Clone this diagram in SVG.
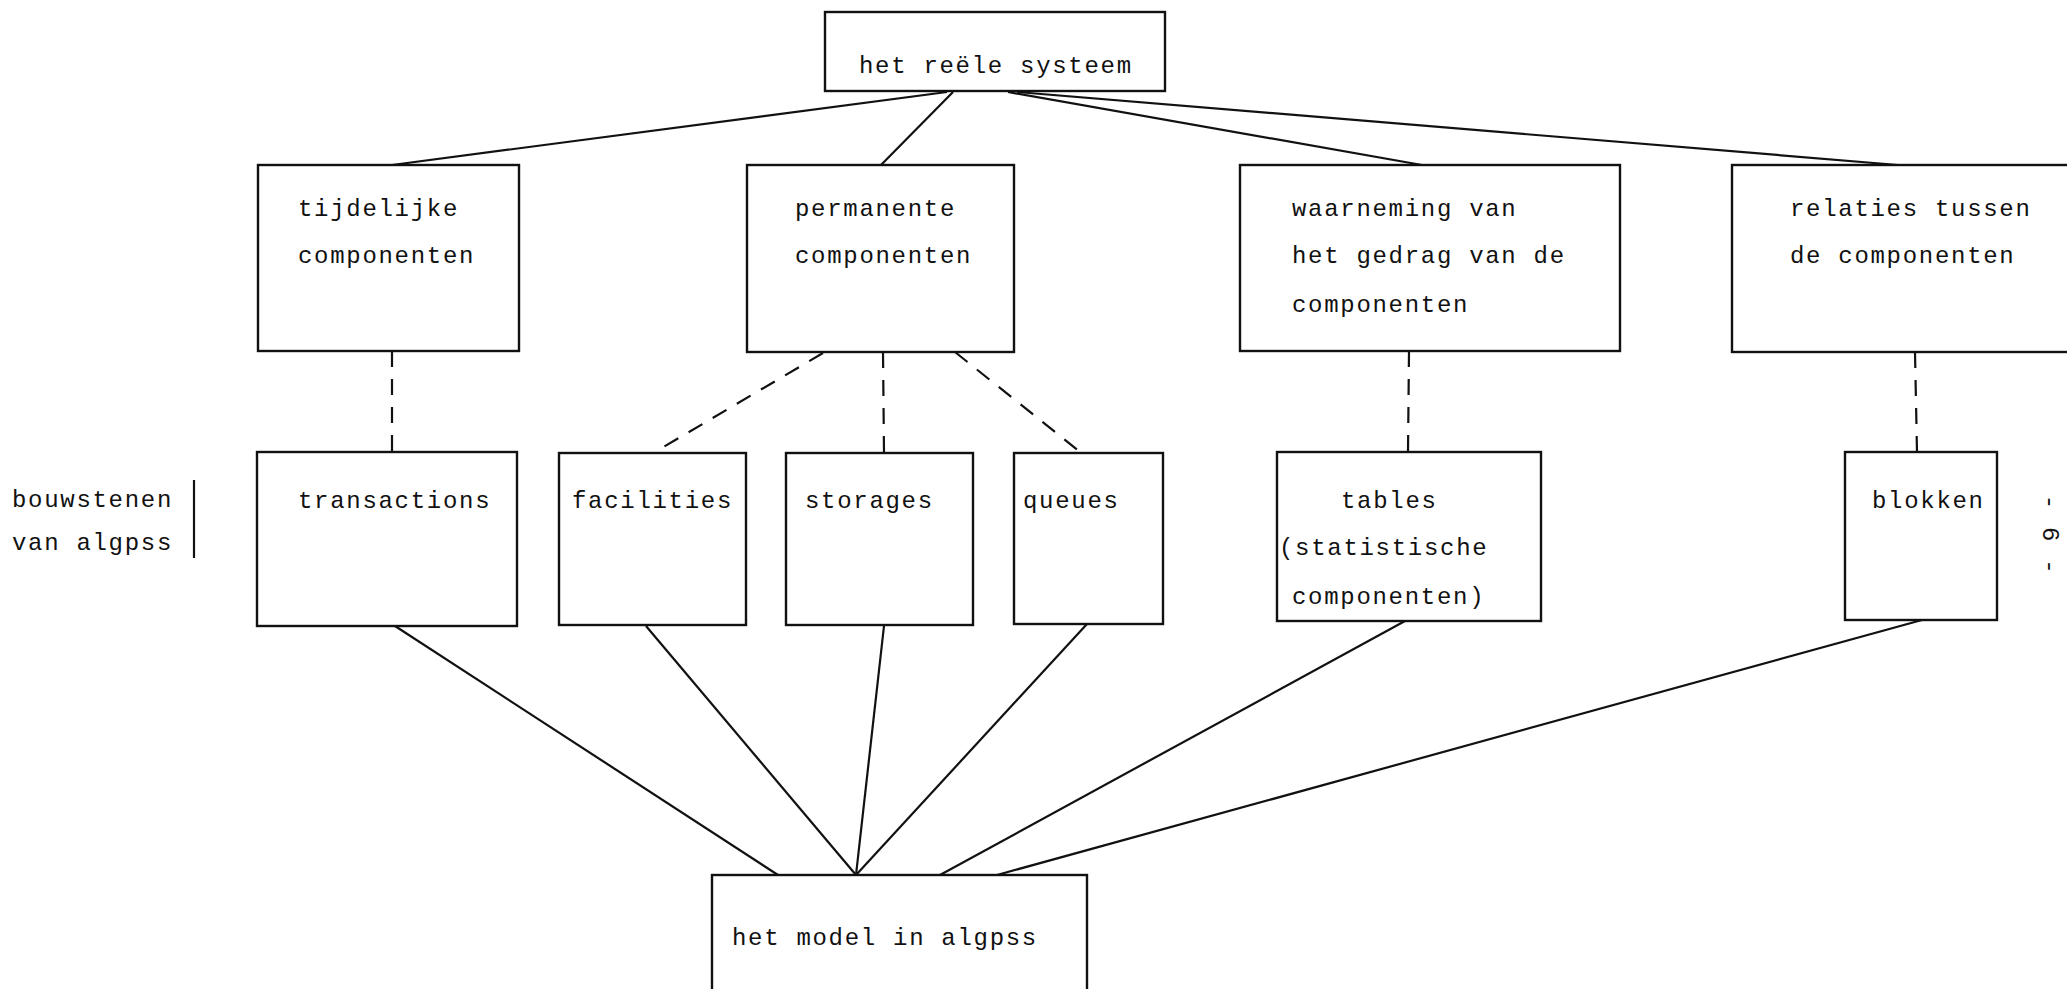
<svg xmlns="http://www.w3.org/2000/svg" width="2067" height="989" viewBox="0 0 2067 989">
<style>
  .box { fill: #fff; stroke: #111; stroke-width: 2.4; }
  .t { font-family: "Liberation Mono", "DejaVu Sans Mono", monospace; font-size: 24px; letter-spacing: 1.7px; fill: #111; }
  .solid { stroke: #111; stroke-width: 2.2; fill: none; }
  .dash { stroke: #111; stroke-width: 2.2; fill: none; stroke-dasharray: 16 12; }
</style>
<rect x="0" y="0" width="2067" height="989" fill="#fff"/>

<g id="connectors">
  <line class="solid" x1="947" y1="92" x2="392" y2="165"/>
  <line class="solid" x1="953" y1="92" x2="881" y2="165"/>
  <line class="solid" x1="1008" y1="92" x2="1422" y2="165"/>
  <line class="solid" x1="1017" y1="92" x2="1898" y2="165"/>

  <line class="dash" x1="392" y1="351" x2="392" y2="452"/>
  <line class="dash" x1="823" y1="353" x2="655" y2="452"/>
  <line class="dash" x1="883" y1="352" x2="884" y2="453"/>
  <line class="dash" x1="955" y1="352" x2="1080" y2="452"/>
  <line class="dash" x1="1409" y1="351" x2="1408" y2="452"/>
  <line class="dash" x1="1915" y1="352" x2="1917" y2="452"/>

  <line class="solid" x1="395" y1="626" x2="778" y2="875"/>
  <line class="solid" x1="646" y1="626" x2="856" y2="875"/>
  <line class="solid" x1="884" y1="626" x2="856" y2="875"/>
  <line class="solid" x1="1087" y1="624" x2="856" y2="875"/>
  <line class="solid" x1="1405" y1="621" x2="940" y2="875"/>
  <line class="solid" x1="1922" y1="620" x2="997" y2="875"/>
</g>

<g id="reele-systeem">
  <rect class="box" x="825" y="12" width="340" height="79"/>
  <text class="t" x="859" y="73">het reële systeem</text>
</g>

<g id="tijdelijke">
  <rect class="box" x="258" y="165" width="261" height="186"/>
  <text class="t" x="298" y="216">tijdelijke</text>
  <text class="t" x="298" y="263">componenten</text>
</g>

<g id="permanente">
  <rect class="box" x="747" y="165" width="267" height="187"/>
  <text class="t" x="795" y="216">permanente</text>
  <text class="t" x="795" y="263">componenten</text>
</g>

<g id="waarneming">
  <rect class="box" x="1240" y="165" width="380" height="186"/>
  <text class="t" x="1292" y="216">waarneming van</text>
  <text class="t" x="1292" y="263">het gedrag van de</text>
  <text class="t" x="1292" y="312">componenten</text>
</g>

<g id="relaties">
  <rect class="box" x="1732" y="165" width="350" height="187"/>
  <text class="t" x="1790" y="216">relaties tussen</text>
  <text class="t" x="1790" y="263">de componenten</text>
</g>

<g id="transactions">
  <rect class="box" x="257" y="452" width="260" height="174"/>
  <text class="t" x="298" y="508">transactions</text>
</g>

<g id="facilities">
  <rect class="box" x="559" y="453" width="187" height="172"/>
  <text class="t" x="572" y="508">facilities</text>
</g>

<g id="storages">
  <rect class="box" x="786" y="453" width="187" height="172"/>
  <text class="t" x="805" y="508">storages</text>
</g>

<g id="queues">
  <rect class="box" x="1014" y="453" width="149" height="171"/>
  <text class="t" x="1023" y="508">queues</text>
</g>

<g id="tables">
  <rect class="box" x="1277" y="452" width="264" height="169"/>
  <text class="t" x="1341" y="508">tables</text>
  <text class="t" x="1279" y="555">(statistische</text>
  <text class="t" x="1292" y="604">componenten)</text>
</g>

<g id="blokken">
  <rect class="box" x="1845" y="452" width="152" height="168"/>
  <text class="t" x="1872" y="508">blokken</text>
</g>

<g id="model">
  <rect class="box" x="712" y="875" width="375" height="130"/>
  <text class="t" x="732" y="945">het model in algpss</text>
</g>

<g id="bouwstenen-label">
  <text class="t" x="12" y="507">bouwstenen</text>
  <text class="t" x="12" y="550">van algpss</text>
  <line class="solid" x1="194" y1="480" x2="194" y2="558"/>
</g>

<g id="page-number">
  <text class="t" x="2043" y="535" text-anchor="middle" transform="rotate(90 2043 535)">- 6 -</text>
</g>
</svg>
